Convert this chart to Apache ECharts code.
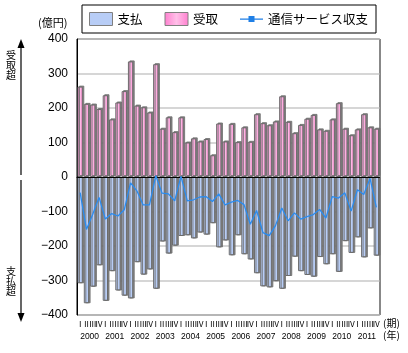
<!DOCTYPE html>
<html>
<head>
<meta charset="utf-8">
<script src="https://cdn.jsdelivr.net/npm/echarts@6/dist/echarts.min.js"></script>
<style>html,body{margin:0;padding:0;background:#fff;}#c{width:408px;height:353px;}</style>
</head>
<body>
<div id="c"></div>
<script>
const quarters = ['Ⅰ','Ⅱ','Ⅲ','Ⅳ','Ⅰ','Ⅱ','Ⅲ','Ⅳ','Ⅰ','Ⅱ','Ⅲ','Ⅳ','Ⅰ','Ⅱ','Ⅲ','Ⅳ','Ⅰ','Ⅱ','Ⅲ','Ⅳ','Ⅰ','Ⅱ','Ⅲ','Ⅳ',
                  'Ⅰ','Ⅱ','Ⅲ','Ⅳ','Ⅰ','Ⅱ','Ⅲ','Ⅳ','Ⅰ','Ⅱ','Ⅲ','Ⅳ','Ⅰ','Ⅱ','Ⅲ','Ⅳ','Ⅰ','Ⅱ','Ⅲ','Ⅳ','Ⅰ','Ⅱ','Ⅲ','Ⅳ'];
const years = ['2000','2001','2002','2003','2004','2005','2006','2007','2008','2009','2010','2011'];
const yTicks = [-400,-300,-200,-100,0,100,200,300,400];

const receipts = [262,212,210,197,237,167,216,249,335,207,202,187,
                  327,140,173,130,173,100,112,103,110,63,155,103,
                  154,101,144,102,182,156,150,161,234,160,127,151,
                  169,180,138,134,167,214,140,121,138,182,144,140];
const payments = [-308,-366,-318,-256,-359,-273,-329,-344,-352,-247,-283,-268,
                  -324,-187,-222,-199,-171,-169,-178,-161,-167,-134,-204,-184,
                  -227,-169,-224,-239,-279,-317,-320,-302,-324,-287,-231,-273,
                  -284,-289,-232,-253,-224,-275,-186,-220,-175,-233,-149,-228];
const balance = [-45,-152,-108,-59,-122,-106,-113,-95,-17,-40,-81,-81,
                 4,-47,-49,-69,2,-69,-66,-58,-57,-71,-49,-81,
                 -73,-68,-80,-137,-97,-161,-170,-141,-90,-127,-104,-122,
                 -115,-109,-94,-119,-57,-61,-46,-99,-37,-51,-4,-88];

const chart = echarts.init(document.getElementById('c'), null, {renderer: 'canvas'});
const jp = '"Noto Sans CJK JP", sans-serif';
function vText(chars, x, y0, step) {
  return chars.split('').map((ch, i) => ({type: 'text', x: x, y: y0 + i * step,
    style: {text: ch, font: '10px "Noto Sans CJK JP", sans-serif', fill: '#000', textAlign: 'center', textVerticalAlign: 'top'}}));
}
const option = {
  animation: false,
  backgroundColor: '#fff',
  textStyle: {fontFamily: jp},
  legend: {
    left: 82, top: 5,
    padding: [7, 8, 7, 7],
    borderColor: '#000', borderWidth: 1,
    itemWidth: 23, itemHeight: 13, itemGap: 22,
    textStyle: {fontSize: 12.5, color: '#000', fontFamily: jp},
    data: [
      {name: '支払', icon: 'rect', itemStyle: {color: '#b8cdf6', borderColor: '#808080', borderWidth: 1, shadowBlur: 0, shadowOffsetX: 0, shadowOffsetY: 0, shadowColor: 'transparent'}},
      {name: '受取', icon: 'rect', itemStyle: {borderColor: '#808080', borderWidth: 1, shadowBlur: 0, shadowOffsetX: 0, shadowOffsetY: 0, shadowColor: 'transparent'}},
      {name: '通信サービス収支', icon: 'path://M0,0h0.05v0.05h-0.05z M0,12h0.05v-0.05h-0.05z M0,5.4h23v1.3H0z M8.5,3h6v6h-6z', itemStyle: {color: '#1f7fe6'}}
    ]
  },
  grid: {left: 77, right: 28.5, top: 39, bottom: 38, show: true, borderColor: '#000', borderWidth: 1, backgroundColor: 'transparent'},
  xAxis: [
    {type: 'category', data: quarters, axisLine: {onZero: true, lineStyle: {color: '#000', width: 1}}, axisTick: {show: false}, axisLabel: {show: false}, z: 5},
    {type: 'category', data: quarters, position: 'bottom', axisLine: {show: false, onZero: false}, axisTick: {show: false},
     axisLabel: {interval: 0, fontSize: 8, margin: 5, color: '#000', fontFamily: jp}},
    {type: 'category', data: years, position: 'bottom', offset: 13, axisLine: {show: false, onZero: false}, axisTick: {show: false},
     axisLabel: {interval: 0, fontSize: 8.5, margin: 4, color: '#000', fontFamily: '"Liberation Sans Narrow", "Liberation Sans", sans-serif'}}
  ],
  yAxis: {
    type: 'value', min: yTicks[0], max: yTicks[yTicks.length - 1], interval: 100,
    axisLine: {show: true, lineStyle: {color: '#000'}},
    axisTick: {show: false},
    axisLabel: {fontSize: 12, margin: 9, color: '#000', fontFamily: '"Liberation Sans", Arial, sans-serif',
                formatter: v => String(v).replace('-', '−')},
    splitLine: {show: true, lineStyle: {color: '#c8c8c8', width: 1.5}}
  },
  series: [
    {name: '支払', type: 'bar', stack: 'a', data: payments, barWidth: '84%',
     itemStyle: {color: '#b8cdf6', borderColor: '#6b6b6b', borderWidth: 1, shadowColor: 'rgba(110,110,110,0.85)', shadowOffsetX: 1.5, shadowOffsetY: 0, shadowBlur: 0}},
    {name: '受取', type: 'bar', stack: 'a', data: receipts, barWidth: '84%',
     itemStyle: {color: new echarts.graphic.LinearGradient(0, 0, 1, 0, [
        {offset: 0, color: '#ff7fcf'}, {offset: 0.5, color: '#ffbfe8'}, {offset: 1, color: '#ff7fcf'}]),
        borderColor: '#6b6b6b', borderWidth: 1, shadowColor: 'rgba(110,110,110,0.85)', shadowOffsetX: 1.5, shadowOffsetY: -1, shadowBlur: 0}},
    {name: '通信サービス収支', type: 'line', data: balance, symbol: 'rect', showSymbol: false, z: 10,
     lineStyle: {color: '#2a8cf0', width: 1.3}, itemStyle: {color: '#1f7fe6'}}
  ],
  graphic: [
    {type: 'text', left: 38, top: 17, style: {text: '(億円)', fontSize: 11, fill: '#000', fontFamily: jp}},
    {type: 'text', left: 383, top: 318, style: {text: '(期)', fontSize: 10, fill: '#000', fontFamily: jp}},
    {type: 'text', left: 383, top: 330, style: {text: '(年)', fontSize: 10, fill: '#000', fontFamily: jp}},
    {type: 'line', shape: {x1: 21, y1: 46, x2: 21, y2: 175}, style: {stroke: '#000', lineWidth: 1.2}},
    {type: 'polygon', shape: {points: [[21, 39], [17.5, 48], [24.5, 48]]}, style: {fill: '#000'}},
    {type: 'line', shape: {x1: 21, y1: 180, x2: 21, y2: 314}, style: {stroke: '#000', lineWidth: 1.2}},
    {type: 'polygon', shape: {points: [[21, 322], [17.5, 313], [24.5, 313]]}, style: {fill: '#000'}},
    ...vText('受取超', 11, 50, 10),
    ...vText('支払超', 11, 266, 10),
    {type: 'line', shape: {x1: 380, y1: 39, x2: 380, y2: 315}, style: {stroke: '#888', lineWidth: 2}}
  ]
};
chart.setOption(option);
</script>
</body>
</html>
